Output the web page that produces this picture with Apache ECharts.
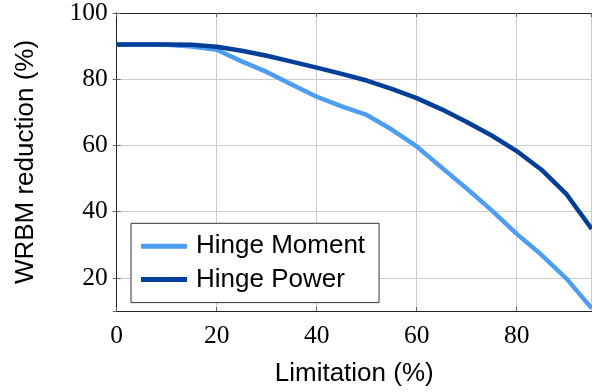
<!DOCTYPE html>
<html>
<head>
<meta charset="utf-8">
<script src="https://cdn.jsdelivr.net/npm/echarts@6/dist/echarts.min.js"></script>
<style>html,body{margin:0;padding:0;background:#fff;}#c{width:592px;height:392px;}</style>
</head>
<body>
<div id="c"></div>
<script>
const limitation = [0, 5, 10, 15, 20, 25, 30, 35, 40, 45, 50, 55, 60, 65, 70, 75, 80, 85, 90, 95];
const hingeMoment = [90.5, 90.5, 90.4, 89.9, 88.9, 85.4, 82.2, 78.4, 74.7, 71.8, 69.2, 64.8, 59.7, 53.3, 47.0, 40.4, 33.3, 26.9, 19.7, 10.8];
const hingePower = [90.5, 90.5, 90.5, 90.4, 89.8, 88.6, 87.1, 85.3, 83.5, 81.6, 79.6, 77.1, 74.3, 70.9, 67.1, 63.0, 58.3, 52.6, 45.2, 34.8];
const seriesNames = ['Hinge Moment', 'Hinge Power'];
const xTitle = 'Limitation (%)';
const yTitle = 'WRBM reduction (%)';

const pairs = (xs, ys) => xs.map((x, i) => [x, ys[i]]);
const serif = 'Liberation Serif';
const sans = 'Liberation Sans';
const gridColor = '#cccccc';
const tickStyle = { show: true, inside: true, length: 4, lineStyle: { color: '#666', width: 1 } };
const axisLineStyle = { show: true, lineStyle: { color: '#222', width: 1 } };

const chart = echarts.init(document.getElementById('c'), null, { renderer: 'canvas' });
chart.setOption({
  animation: false,
  backgroundColor: '#fff',
  grid: { left: 116.7, top: 12.3, right: 0.3, bottom: 80.3, containLabel: false },
  legend: {
    orient: 'vertical',
    left: 131, top: 223.3,
    padding: [10, 14, 10, 10],
    backgroundColor: '#fff',
    borderColor: '#333', borderWidth: 1,
    itemWidth: 46, itemHeight: 5, itemGap: 7.3,
    icon: 'rect',
    textStyle: { fontFamily: sans, fontSize: 26, color: '#000', lineHeight: 26, padding: [0, 0, 0, 4] },
    data: seriesNames
  },
  xAxis: [
    {
      type: 'value', min: 0, max: 95, minInterval: 20, maxInterval: 20, position: 'bottom',
      name: xTitle, nameLocation: 'middle', nameGap: 50,
      nameTextStyle: { fontFamily: sans, fontSize: 26, color: '#000' },
      axisLine: axisLineStyle, axisTick: tickStyle,
      axisLabel: { fontFamily: serif, fontSize: 25.5, color: '#000', margin: 12, showMaxLabel: false },
      splitLine: { show: true, lineStyle: { color: gridColor, width: 1 } }
    },
    {
      type: 'value', min: 0, max: 95, minInterval: 20, maxInterval: 20, position: 'top',
      axisLine: axisLineStyle, axisTick: tickStyle, axisLabel: { show: false }, splitLine: { show: false }
    }
  ],
  yAxis: [
    {
      type: 'value', min: 10, max: 100, minInterval: 20, maxInterval: 20, position: 'left',
      name: yTitle, nameLocation: 'middle', nameGap: 78,
      nameTextStyle: { fontFamily: sans, fontSize: 26, color: '#000' },
      axisLine: axisLineStyle, axisTick: tickStyle,
      axisLabel: { fontFamily: serif, fontSize: 25.5, color: '#000', margin: 9, showMinLabel: false },
      splitLine: { show: true, lineStyle: { color: gridColor, width: 1 } }
    },
    {
      type: 'value', min: 10, max: 100, minInterval: 20, maxInterval: 20, position: 'right',
      axisLine: axisLineStyle, axisTick: tickStyle, axisLabel: { show: false }, splitLine: { show: false }
    }
  ],
  series: [
    {
      name: seriesNames[0], type: 'line', data: pairs(limitation, hingeMoment),
      showSymbol: false, symbol: 'none', smooth: false, clip: true,
      itemStyle: { color: '#4d9df2' },
      lineStyle: { color: '#4d9df2', width: 4.5, join: 'round' }
    },
    {
      name: seriesNames[1], type: 'line', data: pairs(limitation, hingePower),
      showSymbol: false, symbol: 'none', smooth: false, clip: true,
      itemStyle: { color: '#003f99' },
      lineStyle: { color: '#003f99', width: 4.5, join: 'round' }
    }
  ]
});
</script>
</body>
</html>
